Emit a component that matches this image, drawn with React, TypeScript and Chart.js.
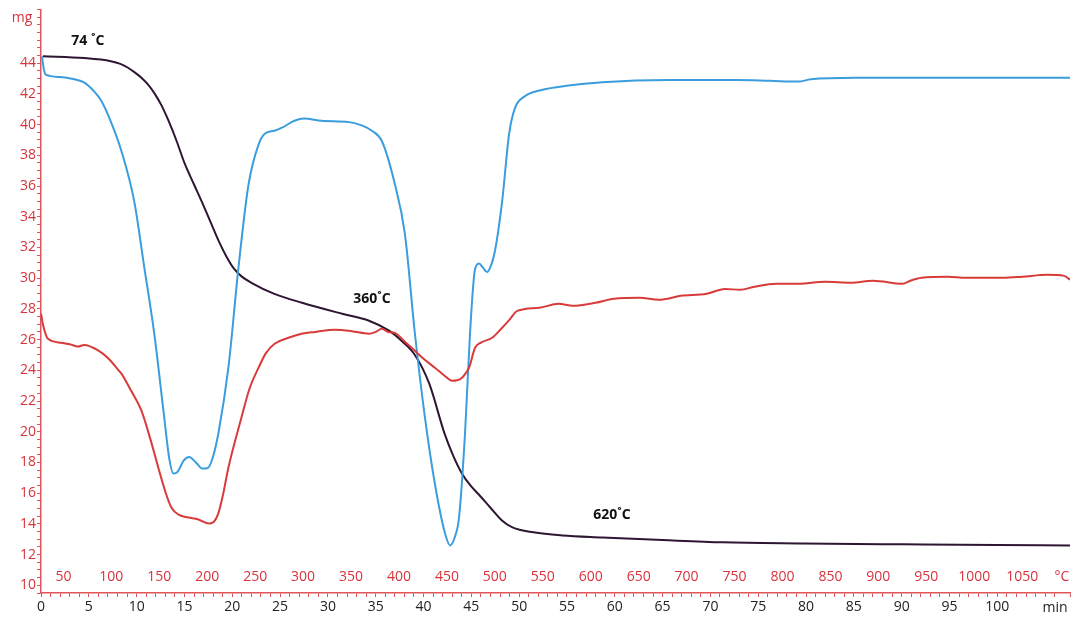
import React, { useEffect, useRef } from "react";
import { Chart, registerables } from "chart.js";

Chart.register(...registerables);

// ---- Data (time in minutes, values on the mg scale) ----
const tgTime = [0.2, 4.5, 7.3, 8.3, 9.1, 9.8, 10.5, 11.2, 11.9, 12.6, 13.3, 14.2, 15.0, 16.0, 16.8, 17.7, 18.6, 19.4, 20.2, 21.0, 22.0, 24.4, 27.3, 31.5, 34.3, 36.4, 37.7, 39.1, 40.6, 42.2, 43.1, 44.0, 44.9, 45.8, 47.0, 48.2, 49.3, 51.5, 54.5, 58.7, 65.0, 71.3, 79.7, 90.1, 100.0, 107.6];
const tgMass = [44.45, 44.33, 44.13, 43.95, 43.7, 43.4, 43.05, 42.6, 42.0, 41.25, 40.3, 38.9, 37.5, 36.1, 35.0, 33.7, 32.4, 31.4, 30.6, 30.1, 29.7, 28.98, 28.4, 27.68, 27.23, 26.58, 25.92, 25.0, 23.13, 19.88, 18.45, 17.3, 16.5, 15.9, 15.05, 14.22, 13.77, 13.45, 13.25, 13.12, 12.95, 12.8, 12.73, 12.67, 12.62, 12.6];

const dtgTime = [0.1, 0.3, 0.5, 2.0, 3.5, 4.5, 5.5, 6.3, 7.3, 8.4, 9.75, 10.8, 11.84, 12.89, 13.4, 13.84, 14.3, 14.9, 15.5, 16.2, 16.9, 17.5, 18.0, 18.55, 19.6, 20.65, 21.7, 22.75, 23.4, 24.4, 25.2, 26.5, 27.5, 29.35, 32.2, 33.54, 34.6, 35.64, 37.0, 38.05, 39.1, 40.15, 41.19, 42.24, 42.77, 43.3, 43.71, 44.34, 44.86, 45.39, 45.81, 46.2, 46.65, 47.1, 47.48, 48.22, 48.95, 49.58, 50.6, 52.0, 54.1, 58.7, 65.7, 72.6, 76.2, 79.2, 80.5, 85.1, 107.6];
const dtgValue = [44.45, 43.6, 43.25, 43.1, 42.95, 42.75, 42.2, 41.55, 40.2, 38.3, 35.0, 30.7, 26.4, 20.9, 18.3, 17.28, 17.4, 18.1, 18.35, 18.0, 17.6, 17.67, 18.4, 19.9, 24.2, 30.7, 36.1, 38.7, 39.4, 39.6, 39.8, 40.25, 40.4, 40.25, 40.16, 39.95, 39.6, 38.93, 36.13, 32.88, 26.38, 20.92, 16.6, 13.4, 12.6, 13.2, 14.4, 19.9, 26.4, 30.6, 30.95, 30.7, 30.4, 30.9, 31.8, 35.0, 39.4, 41.1, 41.85, 42.2, 42.45, 42.75, 42.9, 42.9, 42.85, 42.8, 42.95, 43.05, 43.05];

const dtaTime = [0, 0.2, 0.73, 2.1, 3.0, 3.88, 4.5, 5.97, 7.0, 8.18, 8.39, 9.4, 10.48, 11.4, 12.26, 13.0, 13.63, 14.4, 15.41, 16.4, 17.5, 18.0, 18.55, 19.0, 19.6, 20.96, 21.8, 22.75, 23.5, 24.42, 25.8, 27.25, 28.7, 30.7, 32.5, 34.28, 35.0, 35.64, 36.3, 37.0, 38.0, 39.1, 40.1, 41.19, 42.2, 42.98, 43.5, 44.03, 44.4, 44.76, 45.39, 46.0, 47.17, 48.22, 49.0, 49.8, 52.1, 54.1, 55.6, 58.0, 59.9, 62.6, 64.6, 66.9, 69.6, 71.5, 73.1, 74.6, 76.9, 79.2, 82.0, 84.7, 87.0, 90.1, 90.9, 92.1, 94.8, 96.7, 100.6, 102.6, 105.2, 107.0, 107.6];
const dtaValue = [27.7, 27.0, 26.05, 25.8, 25.7, 25.55, 25.65, 25.3, 24.8, 23.95, 23.8, 22.7, 21.4, 19.6, 17.67, 16.1, 15.07, 14.6, 14.42, 14.3, 14.03, 14.1, 14.7, 15.8, 17.67, 20.92, 22.8, 24.17, 25.1, 25.73, 26.1, 26.38, 26.5, 26.64, 26.55, 26.38, 26.5, 26.7, 26.5, 26.44, 25.9, 25.27, 24.7, 24.17, 23.65, 23.32, 23.35, 23.52, 23.8, 24.17, 25.47, 25.8, 26.12, 26.77, 27.3, 27.87, 28.07, 28.33, 28.2, 28.4, 28.66, 28.72, 28.59, 28.85, 28.98, 29.3, 29.24, 29.44, 29.63, 29.63, 29.76, 29.7, 29.83, 29.63, 29.83, 30.02, 30.09, 30.02, 30.02, 30.09, 30.22, 30.15, 29.9];

const tempLabels = [50, 100, 150, 200, 250, 300, 350, 400, 450, 500, 550, 600, 650, 700, 750, 800, 850, 900, 950, 1000, 1050];
const tempOffset = 26.6; // °C at t = 0
const heatingRate = 9.975; // °C per min

const noteTexts = ["74 ˚C", "360˚C", "620˚C"];
const noteTimes = [4.9, 34.6, 59.7];
const noteValues = [45.45, 28.65, 14.6];

const RED = "#d8333c";
const AXIS_RED = "#e0555c";
const FONT = '"Open Sans", "DejaVu Sans", sans-serif';

const pts = (xs: number[], ys: number[]) => xs.map((x, i) => ({ x, y: ys[i] }));

const overlay = {
  id: "overlay",
  afterDraw(chart: any) {
    const { ctx, chartArea, scales } = chart;
    const xs = scales.x;
    const ys = scales.y;
    ctx.save();
    ctx.textAlign = "center";
    ctx.textBaseline = "middle";
    ctx.fillStyle = RED;
    ctx.font = `14px ${FONT}`;
    tempLabels.forEach((T) => {
      const px = xs.getPixelForValue((T - tempOffset) / heatingRate);
      ctx.fillText(String(T), px, chartArea.bottom - 16);
    });
    ctx.fillText("°C", chartArea.right - 8, chartArea.bottom - 16);
    ctx.fillText("mg", 22, 18);
    ctx.fillStyle = "#222";
    ctx.fillText("min", chartArea.right - 15, chartArea.bottom + 15);
    ctx.fillStyle = "#111";
    ctx.font = `bold 14px ${FONT}`;
    noteTexts.forEach((t, i) => {
      ctx.fillText(t, xs.getPixelForValue(noteTimes[i]), ys.getPixelForValue(noteValues[i]));
    });
    ctx.restore();
  },
};

export default function App() {
  const ref = useRef<HTMLCanvasElement>(null);
  useEffect(() => {
    if (!ref.current) return;
    const common = {
      borderWidth: 2,
      pointRadius: 0,
      fill: false,
      cubicInterpolationMode: "monotone" as const,
    };
    const chart = new Chart(ref.current, {
      type: "line",
      data: {
        datasets: [
          { ...common, label: "DTA", data: pts(dtaTime, dtaValue), borderColor: "#d93a3a" },
          { ...common, label: "DTG", data: pts(dtgTime, dtgValue), borderColor: "#3a9ddd" },
          { ...common, label: "TG", data: pts(tgTime, tgMass), borderColor: "#2e1633" },
        ],
      },
      options: {
        animation: false,
        responsive: false,
        events: [],
        layout: { padding: { top: 8, right: 10, left: 0, bottom: 0 } },
        plugins: { legend: { display: false }, tooltip: { enabled: false } },
        scales: {
          x: {
            type: "linear",
            min: 0,
            max: 107.6,
            afterFit: (s: any) => { s.height = 30; },
            border: { color: AXIS_RED, width: 1.5 },
            grid: { drawOnChartArea: false, tickLength: 4, color: AXIS_RED, tickColor: AXIS_RED },
            ticks: {
              stepSize: 1,
              autoSkip: false,
              maxRotation: 0,
              padding: 2,
              color: "#222",
              font: { family: FONT, size: 14 },
              callback: (v: any) => (v % 5 === 0 && v <= 100 ? String(v) : ""),
            },
          },
          y: {
            type: "linear",
            min: 9.5,
            max: 47.5,
            afterFit: (s: any) => { s.width = 41; },
            border: { color: AXIS_RED, width: 1.5 },
            grid: { drawOnChartArea: false, tickLength: 4, color: AXIS_RED, tickColor: AXIS_RED },
            ticks: {
              stepSize: 0.5,
              autoSkip: false,
              padding: 1,
              color: RED,
              font: { family: FONT, size: 14 },
              callback: (v: any) => (v % 2 === 0 && v >= 10 && v <= 44 ? String(v) : ""),
            },
          },
        },
      },
      plugins: [overlay],
    });
    return () => chart.destroy();
  }, []);
  return (
    <div style={{ position: "fixed", left: 0, top: 0, width: 1080, height: 623, background: "#fff" }}>
      <canvas ref={ref} width={1080} height={623} />
    </div>
  );
}
